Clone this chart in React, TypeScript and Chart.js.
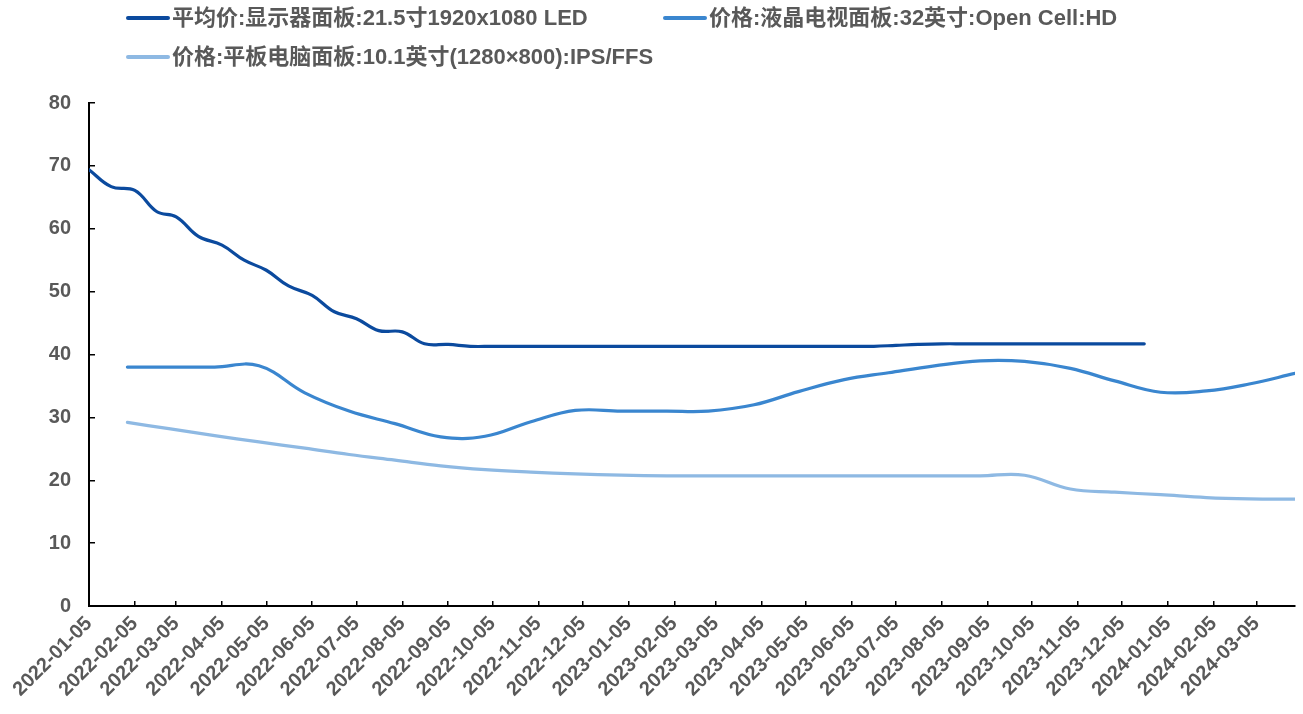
import React, { useEffect, useRef } from "react";
import { Chart, registerables } from "chart.js";

Chart.register(...registerables);

const tickLabels = [
  "2022-01-05", "2022-02-05", "2022-03-05", "2022-04-05", "2022-05-05", "2022-06-05",
  "2022-07-05", "2022-08-05", "2022-09-05", "2022-10-05", "2022-11-05", "2022-12-05",
  "2023-01-05", "2023-02-05", "2023-03-05", "2023-04-05", "2023-05-05", "2023-06-05",
  "2023-07-05", "2023-08-05", "2023-09-05", "2023-10-05", "2023-11-05", "2023-12-05",
  "2024-01-05", "2024-02-05", "2024-03-05",
];

const axisStart = "2022-01-05";
const axisEnd = "2024-03-31";

const s1Dates = [
  "2022-01-05", "2022-01-20", "2022-02-05", "2022-02-20", "2022-03-05", "2022-03-20",
  "2022-04-05", "2022-04-20", "2022-05-05", "2022-05-20", "2022-06-05", "2022-06-20",
  "2022-07-05", "2022-07-20", "2022-08-05", "2022-08-20", "2022-09-05", "2022-09-20",
  "2022-10-05", "2022-10-20", "2022-11-05", "2022-11-20", "2022-12-05", "2022-12-20",
  "2023-01-05", "2023-01-20", "2023-02-05", "2023-02-20", "2023-03-05", "2023-03-20",
  "2023-04-05", "2023-04-20", "2023-05-05", "2023-05-20", "2023-06-05", "2023-06-20",
  "2023-07-05", "2023-07-20", "2023-08-05", "2023-08-20", "2023-09-05", "2023-09-20",
  "2023-10-05", "2023-10-20", "2023-11-05", "2023-11-20", "2023-12-05", "2023-12-20",
];
const s1Values = [
  69.4, 66.7, 66.1, 62.7, 61.9, 58.8,
  57.4, 55.0, 53.4, 50.9, 49.4, 46.8,
  45.7, 43.8, 43.6, 41.7, 41.6, 41.3,
  41.3, 41.3, 41.3, 41.3, 41.3, 41.3,
  41.3, 41.3, 41.3, 41.3, 41.3, 41.3,
  41.3, 41.3, 41.3, 41.3, 41.3, 41.3,
  41.45, 41.6, 41.7, 41.7, 41.7, 41.7,
  41.7, 41.7, 41.7, 41.7, 41.7, 41.7,
];

const monthEndDates = [
  "2022-01-31", "2022-02-28", "2022-03-31", "2022-04-30", "2022-05-31", "2022-06-30",
  "2022-07-31", "2022-08-31", "2022-09-30", "2022-10-31", "2022-11-30", "2022-12-31",
  "2023-01-31", "2023-02-28", "2023-03-31", "2023-04-30", "2023-05-31", "2023-06-30",
  "2023-07-31", "2023-08-31", "2023-09-30", "2023-10-31", "2023-11-30", "2023-12-31",
  "2024-01-31", "2024-02-29", "2024-03-31",
];
const s2Values = [
  38.0, 38.0, 38.0, 38.2, 33.9, 31.0, 29.0, 26.9, 27.0, 29.3, 31.1, 31.0,
  31.0, 31.0, 32.0, 34.1, 36.0, 37.1, 38.2, 39.0, 38.9, 37.8, 35.8, 34.0,
  34.2, 35.3, 37.0,
];
const s3Values = [
  29.2, 28.2, 27.1, 26.1, 25.1, 24.1, 23.2, 22.3, 21.7, 21.3, 21.0, 20.8,
  20.7, 20.7, 20.7, 20.7, 20.7, 20.7, 20.7, 20.7, 20.8, 18.6, 18.1, 17.7,
  17.25, 17.05, 17.0,
];

const seriesNames = [
  "平均价:显示器面板:21.5寸1920x1080 LED",
  "价格:液晶电视面板:32英寸:Open Cell:HD",
  "价格:平板电脑面板:10.1英寸(1280×800):IPS/FFS",
];
const seriesColors = ["#0B4A9E", "#3A86CF", "#8EB9E3"];

const yMin = 0;
const yMax = 80;
const yStep = 10;

const FONT = "'Liberation Sans', Arial, 'Noto Sans CJK SC', sans-serif";
const TEXT_COLOR = "#595959";

const dayOf = (s: string) => {
  const [y, m, d] = s.split("-").map(Number);
  const [by, bm, bd] = axisStart.split("-").map(Number);
  return Math.round((Date.UTC(y, m - 1, d) - Date.UTC(by, bm - 1, bd)) / 86400000);
};

const legendSlots = [
  { x: 128, y: 18 },
  { x: 665, y: 18 },
  { x: 128, y: 57 },
];

const legendPlugin = {
  id: "gridLegend",
  afterDraw(chart: any) {
    const ctx = chart.ctx as CanvasRenderingContext2D;
    ctx.save();
    ctx.font = `bold 22px ${FONT}`;
    ctx.textBaseline = "middle";
    ctx.textAlign = "left";
    seriesNames.forEach((name, i) => {
      const s = legendSlots[i];
      ctx.strokeStyle = seriesColors[i];
      ctx.lineWidth = 4;
      ctx.lineCap = "round";
      ctx.beginPath();
      ctx.moveTo(s.x, s.y);
      ctx.lineTo(s.x + 40, s.y);
      ctx.stroke();
      ctx.fillStyle = TEXT_COLOR;
      ctx.fillText(name, s.x + 44, s.y + 1);
    });
    ctx.restore();
  },
};

export default function App() {
  const ref = useRef<HTMLCanvasElement | null>(null);

  useEffect(() => {
    if (!ref.current) return;
    const mk = (dates: string[], vals: number[]) => dates.map((d, i) => ({ x: dayOf(d), y: vals[i] }));
    const seriesData = [mk(s1Dates, s1Values), mk(monthEndDates, s2Values), mk(monthEndDates, s3Values)];
    const chart = new Chart(ref.current, {
      type: "line",
      data: {
        datasets: seriesNames.map((name, i) => ({
          label: name,
          data: seriesData[i],
          borderColor: seriesColors[i],
          backgroundColor: seriesColors[i],
          borderWidth: 3.2,
          pointRadius: 0,
          tension: 0.4,
          fill: false,
          borderCapStyle: "round" as const,
        })),
      },
      options: {
        responsive: false,
        animation: false,
        devicePixelRatio: 1,
        layout: { padding: { top: 103, right: 8, left: 0, bottom: 0 } },
        plugins: { legend: { display: false }, tooltip: { enabled: false } },
        scales: {
          x: {
            type: "linear",
            min: 0,
            max: dayOf(axisEnd),
            afterBuildTicks: (scale: any) => {
              scale.ticks = tickLabels.map((l) => ({ value: dayOf(l) }));
            },
            afterFit: (scale: any) => {
              scale.height = 108;
            },
            grid: { display: true, drawOnChartArea: false, drawTicks: true, tickLength: -5, color: "#000", lineWidth: 1.5 },
            border: { display: true, color: "#000", width: 2 },
            ticks: {
              autoSkip: false,
              maxRotation: 45,
              minRotation: 45,
              padding: 11,
              color: TEXT_COLOR,
              font: { family: FONT, size: 20, weight: "bold" as const },
              callback: (_v: any, i: number) => tickLabels[i],
            },
          },
          y: {
            min: yMin,
            max: yMax,
            afterFit: (scale: any) => {
              scale.width = 89;
            },
            grid: { display: true, drawOnChartArea: false, drawTicks: true, tickLength: -6, color: "#000", lineWidth: 1.5 },
            border: { display: true, color: "#000", width: 2 },
            ticks: { stepSize: yStep, padding: 24, color: TEXT_COLOR, font: { family: FONT, size: 20, weight: "bold" as const } },
          },
        },
      },
      plugins: [legendPlugin],
    });
    return () => chart.destroy();
  }, []);

  return (
    <div style={{ position: "absolute", left: 0, top: 0, width: 1303, height: 714 }}>
      <canvas ref={ref} width={1303} height={714} style={{ display: "block" }} />
    </div>
  );
}
